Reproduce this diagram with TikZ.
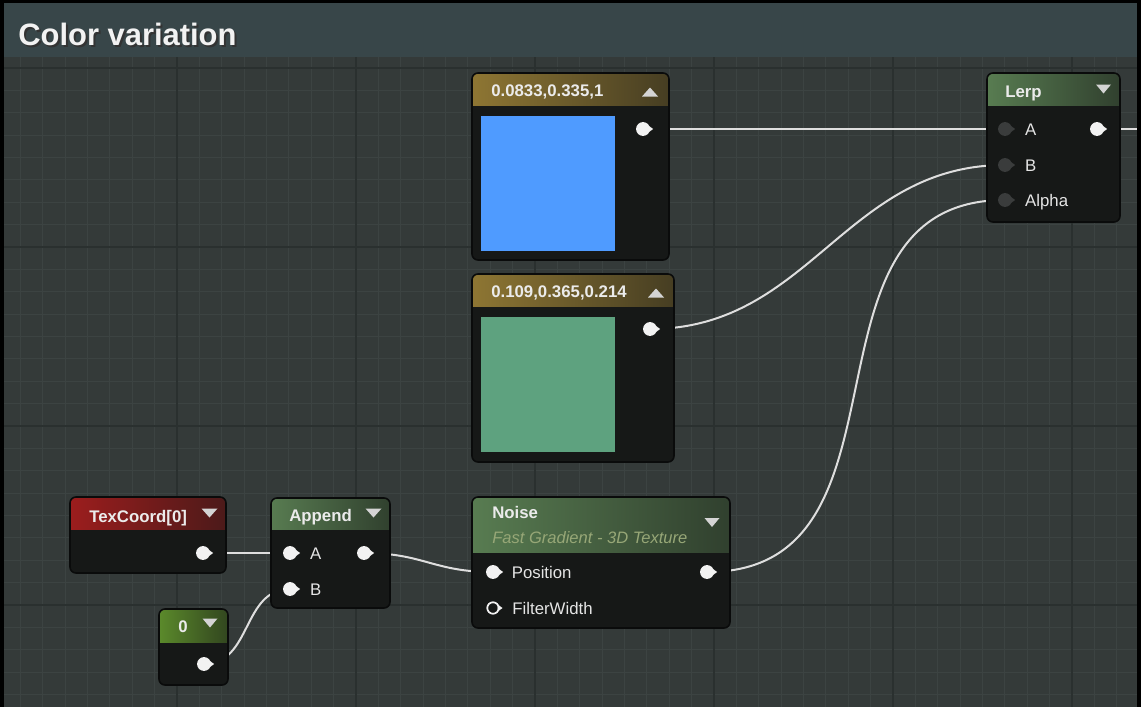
\documentclass[tikz,border=0pt]{standalone}
\usepackage{fontspec}
\setmainfont{Liberation Sans}
\usetikzlibrary{positioning,fit}

\definecolor{gridbg}{HTML}{343A39}
\definecolor{gridminor}{HTML}{3C4342}
\definecolor{gridmajor}{HTML}{2A302F}
\definecolor{titlebar}{HTML}{384649}
\definecolor{nodefill}{HTML}{161817}
\definecolor{nodeedge}{HTML}{0A0B0B}
\definecolor{hdrgold}{HTML}{8E7633}
\definecolor{hdrgreen}{HTML}{587C51}
\definecolor{hdrred}{HTML}{9C1D1D}
\definecolor{hdrolive}{HTML}{5B8A2B}
\definecolor{swblue}{HTML}{4F9BFF}
\definecolor{swgreen}{HTML}{5EA27F}
\definecolor{wirewhite}{HTML}{DEDEDE}
\definecolor{pinwhite}{HTML}{F2F2F2}
\definecolor{pindark}{HTML}{3A3C3C}
\definecolor{subtxt}{HTML}{97A777}
\definecolor{tricol}{HTML}{D4D4D4}

\pgfdeclarelayer{grid}
\pgfdeclarelayer{wires}
\pgfsetlayers{grid,wires,main}

\begin{document}
\begin{tikzpicture}[x=0.75pt, y=-0.75pt,
  uenode/.style 2 args={draw=nodeedge, line width=1.2pt, fill=nodefill,
    rounded corners=4.5pt, inner sep=0pt,
    path picture={\shade[sharp corners, left color=#1, right color=#1!40!nodefill]
      (path picture bounding box.north west) rectangle
      ([yshift=-#2*0.75pt]path picture bounding box.north east);}},
  swatch/.style={inner sep=0pt, draw=none},
  hdr/.style={anchor=base west, inner sep=0pt, text=white!92!black,
    font=\fontsize{12.6}{14}\selectfont\bfseries},
  subhdr/.style={anchor=base west, inner sep=0pt, text=subtxt,
    font=\fontsize{12.4}{14}\selectfont\itshape},
  pinlbl/.style={inner sep=0pt, text height=9pt, text depth=0pt, text=white!90!black,
    font=\fontsize{12.6}{14}\selectfont},
  pin/.style={circle, fill=#1, inner sep=0pt, minimum size=10.4pt},
  pin/.default=pinwhite,
  pinring/.style={circle, draw=pinwhite, line width=1.3pt, fill=nodefill,
    inner sep=0pt, minimum size=8.6pt},
  tri/.style={fill=tricol},
  wire/.style={draw=wirewhite, line width=1.5pt},
  title/.style={anchor=base west, inner sep=0pt, font=\fontsize{23.2}{27}\selectfont\bfseries}]
  \useasboundingbox (0,0) rectangle (1141,707);
  % background grid
  \begin{pgfonlayer}{grid}
    \fill[gridbg] (0,0) rectangle (1141,707);
    \foreach \k in {0,...,28}
      \draw[gridminor, line width=0.75pt] (0,68+22.375*\k) -- (1141,68+22.375*\k);
    \foreach \k in {1,...,51}
      \draw[gridminor, line width=0.75pt] (-2+22.375*\k,57) -- (-2+22.375*\k,707);
    \foreach \k in {0,8,16,24}
      \draw[gridmajor, line width=1.1pt] (0,68+22.375*\k) -- (1141,68+22.375*\k);
    \foreach \k in {8,16,...,48}
      \draw[gridmajor, line width=1.1pt] (-2+22.375*\k,57) -- (-2+22.375*\k,707);
    \fill[titlebar] (0,0) rectangle (1141,57);
  \end{pgfonlayer}
  % comment title
  \node[title, text=black!80] (titleshadow) at (20,47) {Color variation};
  \node[title, text=white!95!black] (titletext) at (18,45) {Color variation};

  % constant colour A
  \node[uenode={hdrgold}{32}, fit={(472,73) (669,260)}] (colA) {};
  \node[swatch, fill=swblue, fit={(481,116) (615,251)}] (colAswatch) {};
  \node[hdr] (colAtitle) at (491,96) {0.0833,0.335,1};
  \fill[tri] (642,96.5) -- (658,96.5) -- (650,87.5) -- cycle;
  \node[pin] (colAout) at (643,129) {};
  % constant colour B
  \node[uenode={hdrgold}{32}, fit={(472,274) (674,462)}] (colB) {};
  \node[swatch, fill=swgreen, fit={(481,317) (615,452)}] (colBswatch) {};
  \node[hdr] (colBtitle) at (491,297) {0.109,0.365,0.214};
  \fill[tri] (648,297.5) -- (664,297.5) -- (656,288.5) -- cycle;
  \node[pin] (colBout) at (650,329) {};
  % lerp
  \node[uenode={hdrgreen}{32}, fit={(987,73) (1120,222)}] (lerp) {};
  \node[hdr] (lerptitle) at (1005,97) {Lerp};
  \fill[tri] (1096,84.5) -- (1111,84.5) -- (1103.5,93.5) -- cycle;
  \node[pin=pindark] (lerpA) at (1005,129) {};
  \node[pin=pindark] (lerpB) at (1005,165) {};
  \node[pin=pindark] (lerpAlpha) at (1005,200) {};
  \node[pinlbl, right=9.5pt of lerpA] (lerpAlbl) {A};
  \node[pinlbl, right=9.5pt of lerpB] (lerpBlbl) {B};
  \node[pinlbl, right=9.5pt of lerpAlpha] (lerpAlphalbl) {Alpha};
  \node[pin] (lerpout) at (1097,129) {};
  \coordinate (rimright) at (1137,129);
  % texcoord
  \node[uenode={hdrred}{32}, fit={(70,497) (226,573)}] (texcoord) {};
  \node[hdr] (textitle) at (89,522) {TexCoord[0]};
  \fill[tri] (201.5,508.5) -- (217.5,508.5) -- (209.5,517.5) -- cycle;
  \node[pin] (texout) at (203,553) {};
  % constant 0
  \node[uenode={hdrolive}{33}, fit={(159,609) (228,685)}] (zero) {};
  \node[hdr, anchor=base] (zerotitle) at (183,632) {0};
  \fill[tri] (202.5,618.5) -- (217.5,618.5) -- (210,627.5) -- cycle;
  \node[pin] (zeroout) at (204,664) {};
  % append
  \node[uenode={hdrgreen}{31}, fit={(271,498) (390,608)}] (append) {};
  \node[hdr] (apptitle) at (289,521) {Append};
  \fill[tri] (365.5,508.5) -- (381.5,508.5) -- (373.5,517.5) -- cycle;
  \node[pin] (appA) at (290,553) {};
  \node[pin] (appB) at (290,589) {};
  \node[pinlbl, right=9.5pt of appA] (appAlbl) {A};
  \node[pinlbl, right=9.5pt of appB] (appBlbl) {B};
  \node[pin] (appout) at (364,553) {};
  % noise
  \node[uenode={hdrgreen}{55}, fit={(472,497) (730,628)}] (noise) {};
  \node[hdr] (noisetitle) at (492,518) {Noise};
  \node[subhdr] (noisesub) at (492,543) {Fast Gradient - 3D Texture};
  \fill[tri] (704.5,518) -- (719.5,518) -- (712,527) -- cycle;
  \node[pin] (noisepos) at (493,572) {};
  \node[pinring] (noisefw) at (493,608) {};
  \node[pinlbl, right=8.5pt of noisepos] (noiseposlbl) {Position};
  \node[pinlbl, right=9.4pt of noisefw] (noisefwlbl) {FilterWidth};
  \node[pin] (noiseout) at (707,572) {};
  % pin tips
  \foreach \p/\c in {colAout/pinwhite, colBout/pinwhite, lerpA/pindark, lerpB/pindark,
                     lerpAlpha/pindark, lerpout/pinwhite, texout/pinwhite, zeroout/pinwhite,
                     appA/pinwhite, appB/pinwhite, appout/pinwhite, noisepos/pinwhite,
                     noisefw/pinwhite, noiseout/pinwhite}
    \fill[\c] ([xshift=-1.4pt]\p.east) ++(0,2.6pt) -- ++(3.6pt,-2.6pt) -- ++(-3.6pt,-2.6pt) -- cycle;
  % wires
  \begin{pgfonlayer}{wires}
    \draw[wire] (colAout.center) -- (lerpA.center);
    \draw[wire] (colBout.center) .. controls +(160,0) and +(-160,0) .. (lerpB.center);
    \draw[wire] (noiseout.center) .. controls +(220,0) and +(-220,0) .. (lerpAlpha.center);
    \draw[wire] (texout.center) -- (appA.center);
    \draw[wire] (zeroout.center) .. controls +(48,0) and +(-48,0) .. (appB.center);
    \draw[wire] (appout.center) .. controls +(60,0) and +(-60,0) .. (noisepos.center);
    \draw[wire] (lerpout.center) -- (rimright);
  \end{pgfonlayer}
  % frame
  \fill[black] (0,0) rectangle (4,707);
  \fill[black] (1137,0) rectangle (1141,707);
  \fill[black] (0,0) rectangle (1141,3);
\end{tikzpicture}
\end{document}
